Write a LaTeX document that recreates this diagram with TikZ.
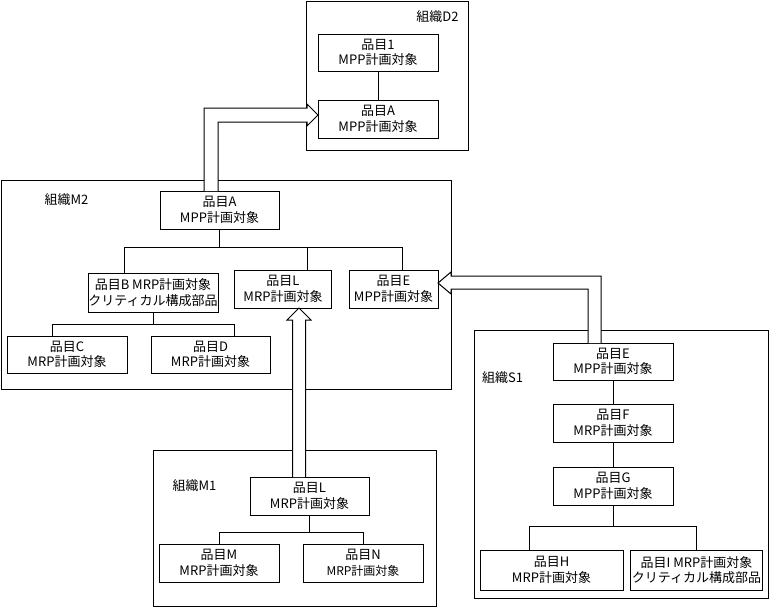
\documentclass[tikz,border=0pt]{standalone}
\usepackage{fontspec}
\setmainfont{Noto Sans CJK JP}
\usetikzlibrary{calc}

\begin{document}
\begin{tikzpicture}[x=0.75pt,y=-0.75pt,line width=0.75pt,
    item/.style={draw,align=center,inner sep=0pt,outer sep=0pt,
      minimum width=90pt,minimum height=28.5pt,
      font=\fontsize{9.75pt}{11.7pt}\selectfont},
    org/.style={inner sep=0pt,font=\fontsize{9.75pt}{11.7pt}\selectfont},
    flow/.style={draw,fill=white,line join=miter}]
    \useasboundingbox (0,0) rectangle (769,607);
    % organisations
    \draw (306,1) rectangle (468,150);
    \draw (1,180) rectangle (451,389);
    \draw (153,450) rectangle (436,606);
    \draw (474,330) rectangle (768,598);
    \node[org] (lbld2) at (437.5,17) {組織D2};
    \node[org] (lblm2) at (66.5,200) {組織M2};
    \node[org] (lblm1) at (194.5,486) {組織M1};
    \node[org] (lbls1) at (502.5,378) {組織S1};
    % organisation D2
    \node[item,minimum height=27.75pt] (d2one) at (378,52.5) {品目1\\MPP計画対象};
    \node[item] (d2a) at (378,119) {品目A\\MPP計画対象};
    % organisation M2
    \node[item,minimum width=89.25pt] (m2a) at (219.5,210) {品目A\\MPP計画対象};
    \node[item,minimum width=97.5pt,minimum height=29.25pt] (m2b) at (153,292.5) {品目B MRP計画対象\\クリティカル構成部品};
    \node[item,minimum width=72.75pt] (m2l) at (283,289) {品目L\\MRP計画対象};
    \node[item,minimum width=66.75pt] (m2e) at (393.5,289) {品目E\\MPP計画対象};
    \node[item,minimum height=27.75pt] (m2c) at (67,354.5) {品目C\\MRP計画対象};
    \node[item,minimum width=89.25pt,minimum height=27.75pt] (m2d) at (210.5,354.5) {品目D\\MRP計画対象};
    % organisation M1
    \node[item,minimum width=89.25pt] (m1l) at (309.5,496) {品目L\\MRP計画対象};
    \node[item] (m1m) at (219,563) {品目M\\MRP計画対象};
    \node[item] (m1n) at (363,563) {品目N\\{\fontsize{9pt}{11.7pt}\selectfont MRP計画対象}};
    % organisation S1
    \node[item,minimum height=27.75pt] (s1e) at (613,361.5) {品目E\\MPP計画対象};
    \node[item] (s1f) at (613,423) {品目F\\MRP計画対象};
    \node[item] (s1g) at (613,486) {品目G\\MPP計画対象};
    \node[item,minimum width=107.25pt,minimum height=30pt] (s1h) at (551.5,570) {品目H\\MRP計画対象};
    \node[item,minimum width=99pt,minimum height=30pt] (s1i) at (696.5,570) {品目I MRP計画対象\\クリティカル構成部品};
    % structure lines
    \draw (d2one.south) -- (d2a.north);
    \draw (m2a.south) -- ++(0,18);
    \draw ($(m2b.north)+(-29,0)$) |- ($(m2e.north)+(8.5,-23)$) -- ($(m2e.north)+(8.5,0)$);
    \draw ($(m2l.north)+(24,0)$) -- ++(0,-23);
    \draw (m2b.south) -- ++(0,12);
    \draw ($(m2c.north)+(-15,0)$) |- ($(m2d.north)+(23.5,-12)$) -- ($(m2d.north)+(23.5,0)$);
    \draw (m1l.south) -- ++(0,17);
    \draw (m1m.north) -- ++(0,-12) -| (m1n.north);
    \draw (s1e.south) -- (s1f.north);
    \draw (s1f.south) -- (s1g.north);
    \draw (s1g.south) -- ++(0,21);
    \draw ($(s1h.north)+(-22.5,0)$) -- ++(0,-24) -| (s1i.north);
    % supply arrows
    \draw[flow] ($(m1l.north)+(-17,0)$) -- ($(m2l.south)+(9.5,12)$) -- ++(-5.5,0)
      -- ($(m2l.south)+(16,0)$) -- ++(12,12) -- ++(-5.5,0) -- ($(m1l.north)+(-4,0)$);
    \draw[flow] ($(s1e.north)+(-25,0)$) |- ($(m2e.east)+(13,0)$) -- ++(0,5)
      -- ($(m2e.east)+(0,-6)$) -- ++(13,-11) -- ++(0,4) -| ($(s1e.north)+(-12,0)$);
    \draw[flow] ($(m2a.north)+(-1.5,0)$) |- ($(d2a.west)+(-11,3)$) -- ++(0,4)
      -- ($(d2a.west)+(0,-4)$) -- ++(-11,-11) -- ++(0,4) -| ($(m2a.north)+(-15.5,0)$);
\end{tikzpicture}
\end{document}
